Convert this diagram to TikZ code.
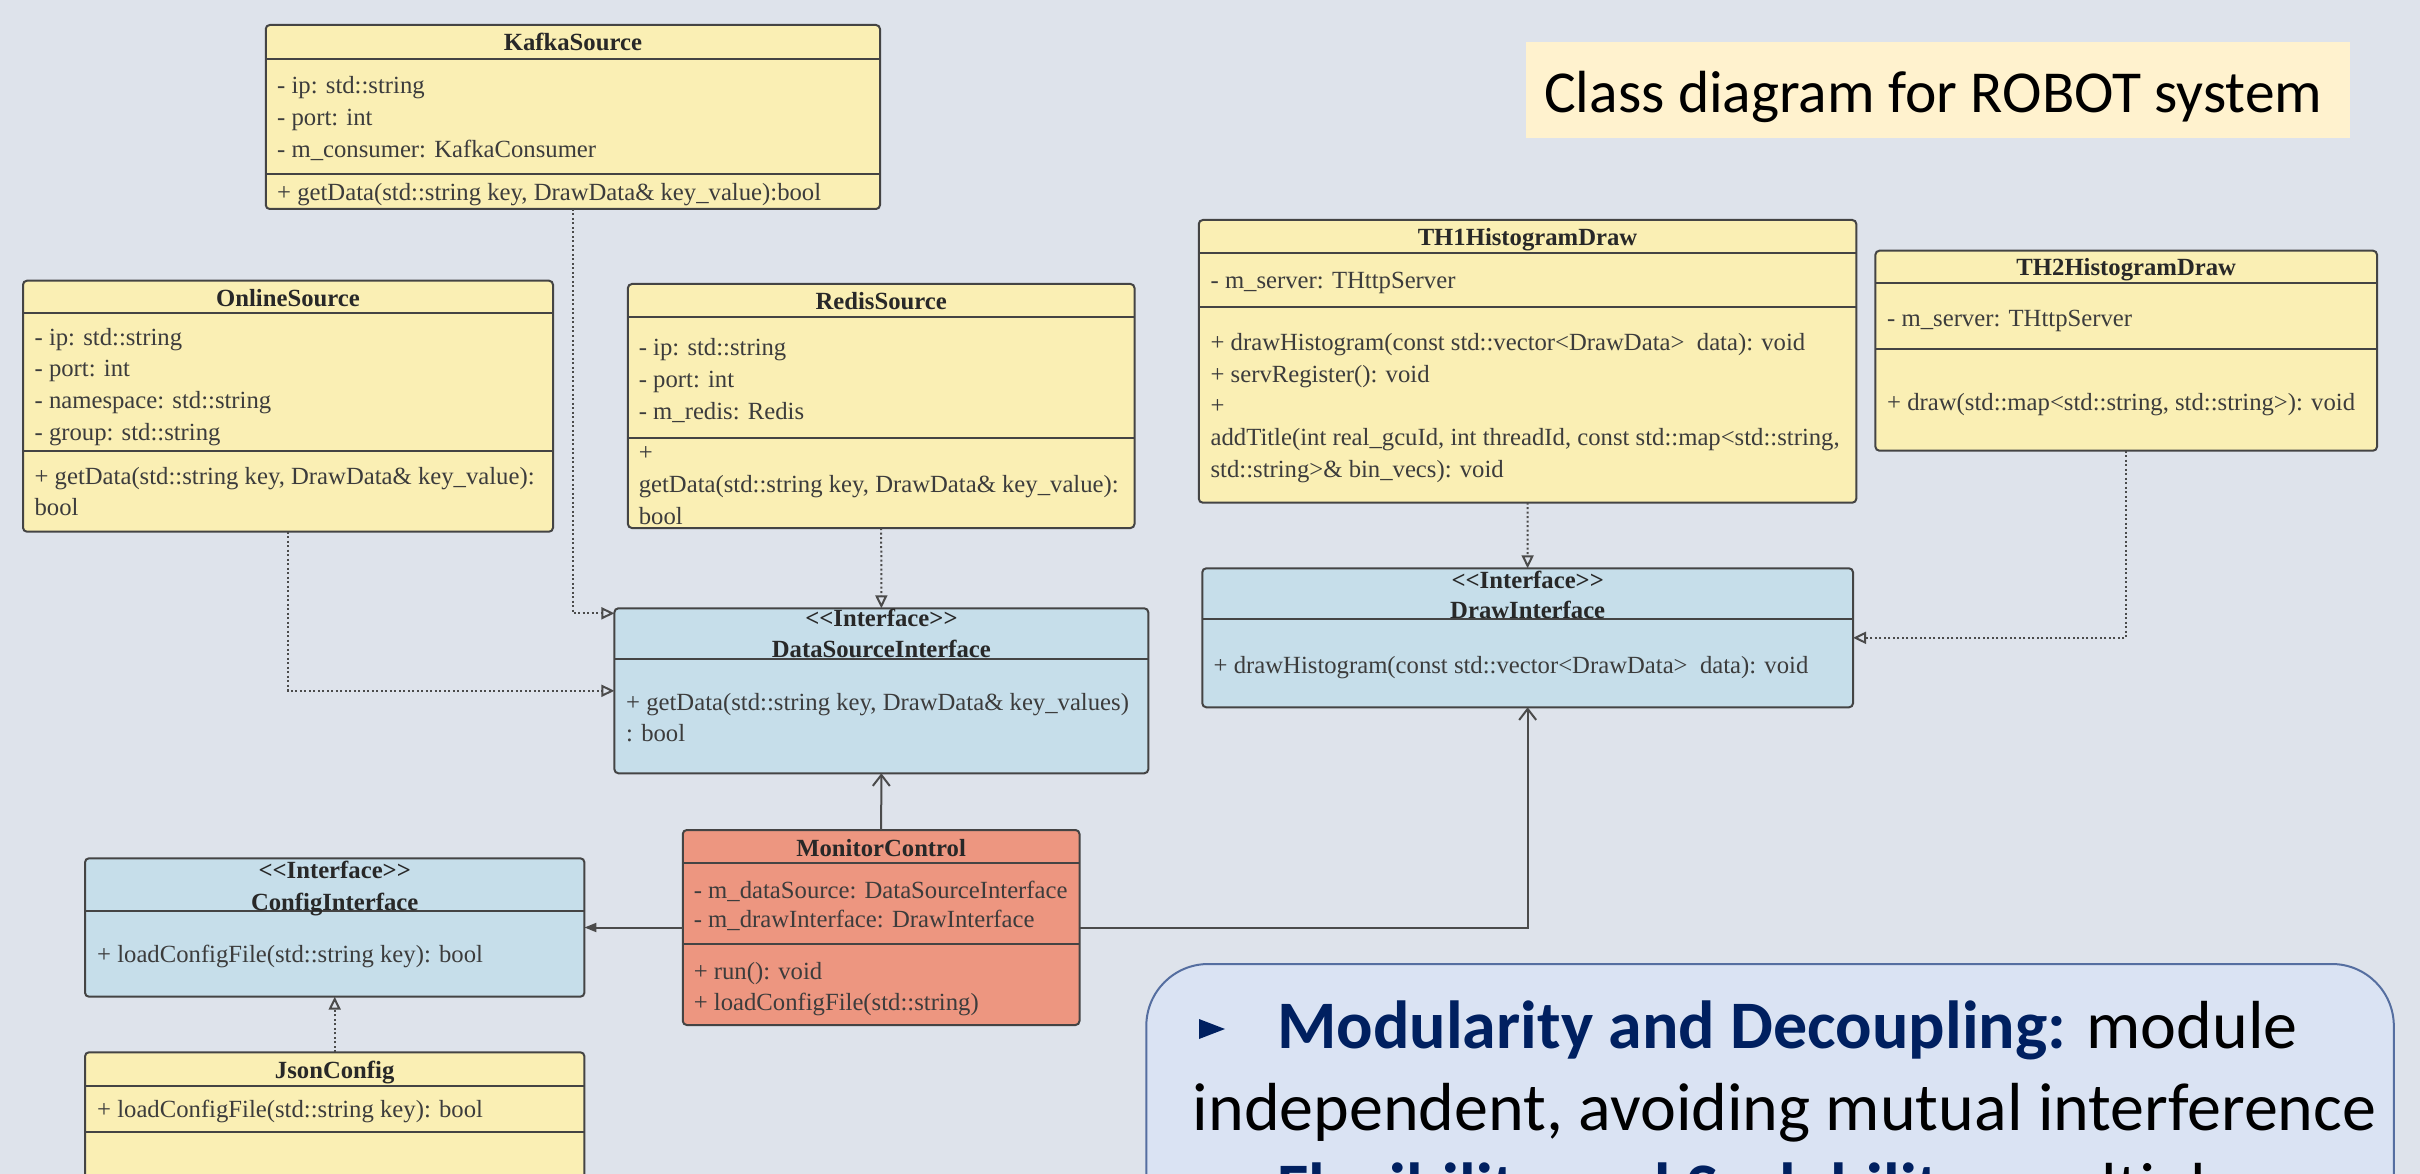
\documentclass[tikz,border=0pt]{standalone}
\usepackage{fontspec}
\setmainfont{Liberation Serif}
\newfontfamily\calibri{Carlito}
\usetikzlibrary{arrows.meta}

\definecolor{bgcol}{RGB}{222,227,235}
\definecolor{classyellow}{RGB}{250,239,180}
\definecolor{ifaceblue}{RGB}{198,222,234}
\definecolor{ctrlred}{RGB}{237,150,128}
\definecolor{boxline}{RGB}{68,68,68}
\definecolor{linecol}{RGB}{75,75,75}
\definecolor{txtcol}{RGB}{60,60,60}
\definecolor{ttlcol}{RGB}{40,40,40}
\definecolor{notefill}{RGB}{255,242,206}
\definecolor{calloutfill}{RGB}{218,227,243}
\definecolor{calloutline}{RGB}{85,110,160}
\definecolor{navy}{RGB}{0,32,96}

\tikzset{
  umlbox/.style={draw=boxline, line width=2pt, rounded corners=4pt,
    inner sep=0pt, outer sep=0pt, anchor=north west},
  divider/.style={draw=boxline, line width=2pt},
  mtext/.style={anchor=base west, inner sep=0pt, text=txtcol,
    font=\fontsize{24.7}{30}\selectfont},
  ctitle/.style={anchor=base, inner sep=0pt, text=ttlcol,
    font=\fontsize{24.7}{30}\selectfont\bfseries},
  realize/.style={draw=linecol, line width=2pt, dash pattern=on 2pt off 2.5pt,
    -{Triangle[open,length=13pt,width=12pt]}},
  assoc/.style={draw=linecol, line width=2pt,
    -{Straight Barb[length=11pt,width=17pt]}},
  holds/.style={draw=linecol, line width=2pt,
    -{Triangle[length=12pt,width=9pt]}},
  bigtext/.style={anchor=base west, inner sep=0pt, text=black,
    font=\calibri\fontsize{68}{82}\selectfont},
}
\newcommand{\mline}[4]{\node[mtext] (#1) at (#2,#3) {#4};}
\newcommand{\ctitle}[4]{\node[ctitle] (#1) at (#2,#3) {#4};}
% stereotype label, written so that << and >> stay two separate brackets
\newcommand{\stereo}{<{}<Interface>{}>}

\begin{document}
\begin{tikzpicture}[x=1pt,y=-1pt]
\useasboundingbox (0,0) rectangle (2420,1174);
\clip (0,0) rectangle (2420,1174);
\fill[bgcol] (0,0) rectangle (2420,1174);

% ---------- title note ----------
\fill[notefill] (1526.4,41.7) rectangle (2349.5,138.3);
\node[anchor=base west, inner sep=0pt, font=\calibri\fontsize{59.5}{70}\selectfont]
  (heading) at (1544,112.7) {Class diagram for ROBOT system};

% ---------- KafkaSource ----------
\node[umlbox, fill=classyellow, minimum width=614.25pt, minimum height=184pt] (kafka) at (265.75,25) {};
\draw[divider] (265.75,59.3) -- (880,59.3);
\draw[divider] (265.75,174) -- (880,174);
\ctitle{kafka-t}{572.9}{51}{KafkaSource}
\mline{kafka-a1}{277}{94}{- ip: std::string}
\mline{kafka-a2}{277}{126}{- port: int}
\mline{kafka-a3}{277}{158}{- m\_consumer: KafkaConsumer}
\mline{kafka-m1}{277}{201}{+ getData(std::string key, DrawData\& key\_value):bool}

% ---------- OnlineSource ----------
\node[umlbox, fill=classyellow, minimum width=530pt, minimum height=251pt] (online) at (23,280.7) {};
\draw[divider] (23,313.3) -- (553,313.3);
\draw[divider] (23,451) -- (553,451);
\ctitle{online-t}{288}{306}{OnlineSource}
\mline{online-a1}{34.4}{345}{- ip: std::string}
\mline{online-a2}{34.4}{376.5}{- port: int}
\mline{online-a3}{34.4}{408}{- namespace: std::string}
\mline{online-a4}{34.4}{440}{- group: std::string}
\mline{online-m1}{34.4}{484}{+ getData(std::string key, DrawData\& key\_value):}
\mline{online-m2}{34.4}{515.5}{bool}

% ---------- RedisSource ----------
\node[umlbox, fill=classyellow, minimum width=506.6pt, minimum height=244pt] (redis) at (627.9,284) {};
\draw[divider] (627.9,317.3) -- (1134.5,317.3);
\draw[divider] (627.9,438.3) -- (1134.5,438.3);
\ctitle{redis-t}{881.2}{309.5}{RedisSource}
\mline{redis-a1}{638.6}{355}{- ip: std::string}
\mline{redis-a2}{638.6}{387}{- port: int}
\mline{redis-a3}{638.6}{419}{- m\_redis: Redis}
\mline{redis-m0}{638.6}{460}{+}
\mline{redis-m1}{638.6}{492}{getData(std::string key, DrawData\& key\_value):}
\mline{redis-m2}{638.6}{524}{bool}

% ---------- TH1HistogramDraw ----------
\node[umlbox, fill=classyellow, minimum width=657.5pt, minimum height=282.7pt] (th1) at (1198.8,220) {};
\draw[divider] (1198.8,253.3) -- (1856.3,253.3);
\draw[divider] (1198.8,307.3) -- (1856.3,307.3);
\ctitle{th1-t}{1527.5}{246}{TH1HistogramDraw}
\mline{th1-a1}{1210.4}{289}{- m\_server: THttpServer}
\mline{th1-m1}{1210.4}{350}{+ drawHistogram(const std::vector<DrawData>\ \ data): void}
\mline{th1-m2}{1210.4}{382}{+ servRegister(): void}
\mline{th1-m3}{1210.4}{413}{+}
\mline{th1-m4}{1210.4}{445.5}{addTitle(int real\_gcuId, int threadId, const std::map<std::string,}
\mline{th1-m5}{1210.4}{477}{std::string>\& bin\_vecs): void}

% ---------- TH2HistogramDraw ----------
\node[umlbox, fill=classyellow, minimum width=501.6pt, minimum height=200pt] (th2) at (1875.4,250.7) {};
\draw[divider] (1875.4,282.7) -- (2377,282.7);
\draw[divider] (1875.4,349.3) -- (2377,349.3);
\ctitle{th2-t}{2126.2}{276}{TH2HistogramDraw}
\mline{th2-a1}{1887}{326.5}{- m\_server: THttpServer}
\mline{th2-m1}{1887}{410}{+ draw(std::map<std::string, std::string>): void}

% ---------- DrawInterface ----------
\node[umlbox, fill=ifaceblue, minimum width=650.7pt, minimum height=139pt] (di) at (1202.3,568.3) {};
\draw[divider] (1202.3,619) -- (1853,619);
\ctitle{di-s}{1527.7}{588}{\stereo}
\ctitle{di-t}{1527.7}{618}{DrawInterface}
\mline{di-m1}{1213.5}{673}{+ drawHistogram(const std::vector<DrawData>\ \ data): void}

% ---------- DataSourceInterface ----------
\node[umlbox, fill=ifaceblue, minimum width=533.9pt, minimum height=165pt] (dsi) at (614.4,608.3) {};
\draw[divider] (614.4,659) -- (1148.3,659);
\ctitle{dsi-s}{881.4}{626.5}{\stereo}
\ctitle{dsi-t}{881.4}{657}{DataSourceInterface}
\mline{dsi-m1}{626}{710}{+ getData(std::string key, DrawData\& key\_values)}
\mline{dsi-m2}{626}{741}{: bool}

% ---------- MonitorControl ----------
\node[umlbox, fill=ctrlred, minimum width=396.7pt, minimum height=195pt] (mc) at (682.8,830) {};
\draw[divider] (682.8,862.7) -- (1079.5,862.7);
\draw[divider] (682.8,944.3) -- (1079.5,944.3);
\ctitle{mc-t}{881.1}{856}{MonitorControl}
\mline{mc-a1}{693.6}{898}{- m\_dataSource: DataSourceInterface}
\mline{mc-a2}{693.6}{927.5}{- m\_drawInterface: DrawInterface}
\mline{mc-m1}{693.6}{979}{+ run(): void}
\mline{mc-m2}{693.6}{1010}{+ loadConfigFile(std::string)}

% ---------- ConfigInterface ----------
\node[umlbox, fill=ifaceblue, minimum width=499.4pt, minimum height=138.4pt] (cfg) at (85,858.3) {};
\draw[divider] (85,910.7) -- (584.4,910.7);
\ctitle{cfg-s}{334.7}{878}{\stereo}
\ctitle{cfg-t}{334.7}{910}{ConfigInterface}
\mline{cfg-m1}{97}{962}{+ loadConfigFile(std::string key): bool}

% ---------- JsonConfig ----------
\node[umlbox, fill=classyellow, minimum width=499.4pt, minimum height=200pt] (json) at (85,1052.3) {};
\draw[divider] (85,1086) -- (584.4,1086);
\draw[divider] (85,1131.7) -- (584.4,1131.7);
\ctitle{json-t}{334.7}{1078}{JsonConfig}
\mline{json-m1}{97}{1117}{+ loadConfigFile(std::string key): bool}

% ---------- relations ----------
\draw[realize] (kafka.south) |- ([yshift=-5pt]dsi.north west);
\draw[realize] (online.south) |- (dsi.west);
\draw[realize] (redis.south) -- (dsi.north);
\draw[realize] (th1.south) -- (di.north);
\draw[realize] (th2.south) |- (di.east);
\draw[realize] (json.north) -- (cfg.south);
\draw[assoc] (mc.north) -- (dsi.south);
\draw[assoc] (mc.east) -| (di.south);
\draw[holds] (mc.west) -- (cfg.east);

% ---------- callout ----------
\node[draw=calloutline, fill=calloutfill, line width=2pt, rounded corners=62pt,
  inner sep=0pt, outer sep=0pt, anchor=north west,
  minimum width=1247.5pt, minimum height=420pt] (callout) at (1146.3,964) {};
\fill[navy] (1199,1019) -- (1199,1039) -- (1225,1029) -- cycle;
\node[bigtext] (point1) at (1277,1048)
  {\textcolor{navy}{\bfseries Modularity and Decoupling:} module};
\node[bigtext] (point1b) at (1192.6,1130)
  {independent, avoiding mutual interference};
\fill[navy] (1199,1181) -- (1199,1201) -- (1225,1191) -- cycle;
\node[bigtext] (point2) at (1277,1210)
  {\textcolor{navy}{\bfseries Flexibility and Scalability:} multiple};
\end{tikzpicture}
\end{document}
